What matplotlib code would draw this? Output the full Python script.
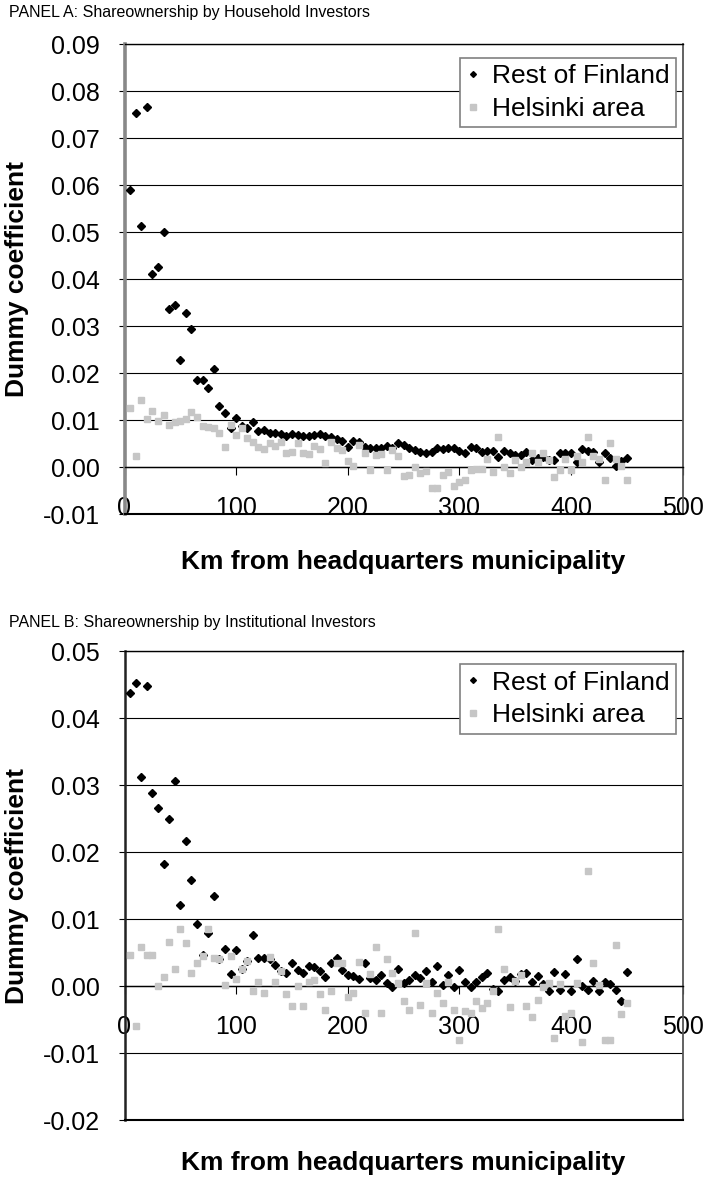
import matplotlib
matplotlib.use("Agg")
import matplotlib.pyplot as plt
import numpy as np

plt.rcParams['font.family'] = ['Liberation Sans', 'DejaVu Sans']

# ---------------- data ----------------
km = list(range(5, 451, 5))

a_rest = [0.0589, 0.0753, 0.0513, 0.0767, 0.0412, 0.0426, 0.0500, 0.0337, 0.0345, 0.0228,
          0.0328, 0.0294, 0.0185, 0.0185, 0.0169, 0.0210, 0.0131, 0.0116, 0.0083, 0.0105,
          0.0088, 0.0083, 0.0096, 0.0077, 0.0079, 0.0072, 0.0073, 0.0070, 0.0067, 0.0070,
          0.0069, 0.0067, 0.0067, 0.0069, 0.0070, 0.0067, 0.0065, 0.0060, 0.0056, 0.0044,
          0.0055, 0.0053, 0.0044, 0.0041, 0.0042, 0.0041, 0.0046, 0.0041, 0.0051, 0.0047,
          0.0041, 0.0037, 0.0033, 0.0031, 0.0033, 0.0041, 0.0038, 0.0042, 0.0042, 0.0035,
          0.0030, 0.0044, 0.0042, 0.0033, 0.0035, 0.0035, 0.0021, 0.0035, 0.0030, 0.0026,
          0.0026, 0.0033, 0.0016, 0.0019, 0.0021, 0.0016, 0.0016, 0.0030, 0.0030, 0.0030,
          0.0012, 0.0038, 0.0035, 0.0033, 0.0012, 0.0031, 0.0019, 0.0003, 0.0014, 0.0019]

a_hel = [0.0127, 0.0024, 0.0143, 0.0102, 0.0120, 0.0099, 0.0111, 0.0089, 0.0097, 0.0099,
         0.0103, 0.0117, 0.0106, 0.0088, 0.0086, 0.0083, 0.0072, 0.0043, 0.0091, 0.0069,
         0.0083, 0.0063, 0.0053, 0.0044, 0.0039, 0.0051, 0.0045, 0.0054, 0.0030, 0.0033,
         0.0051, 0.0030, 0.0028, 0.0046, 0.0038, 0.0010, 0.0054, 0.0040, 0.0037, 0.0014,
         0.0003, 0.0047, 0.0030, -0.0006, 0.0026, 0.0028, -0.0005, 0.0037, 0.0023, -0.0019,
         -0.0016, 0.0000, -0.0013, -0.0007, -0.0045, -0.0043, -0.0016, -0.0011, -0.0040, -0.0031,
         -0.0028, -0.0005, -0.0003, -0.0003, 0.0017, -0.0009, 0.0064, 0.0000, -0.0013, 0.0015,
         0.0000, 0.0012, 0.0031, 0.0012, 0.0031, 0.0015, -0.0021, -0.0005, 0.0017, -0.0006,
         0.0024, 0.0012, 0.0064, 0.0024, 0.0017, -0.0026, 0.0051, 0.0017, 0.0002, -0.0026]

b_rest = [0.0437, 0.0453, 0.0312, 0.0448, 0.0288, 0.0266, 0.0182, 0.0250, 0.0307, 0.0121,
          0.0217, 0.0158, 0.0093, 0.0046, 0.0080, 0.0134, 0.0040, 0.0055, 0.0018, 0.0054,
          0.0025, 0.0037, 0.0077, 0.0042, 0.0042, 0.0041, 0.0031, 0.0022, 0.0019, 0.0034,
          0.0024, 0.0020, 0.0030, 0.0028, 0.0023, 0.0014, 0.0035, 0.0042, 0.0024, 0.0016,
          0.0015, 0.0011, 0.0035, 0.0012, 0.0009, 0.0016, 0.0004, -0.0001, 0.0025, 0.0005,
          0.0009, 0.0017, 0.0012, 0.0022, 0.0006, 0.0030, 0.0001, 0.0017, -0.0002, 0.0024,
          0.0006, -0.0002, 0.0006, 0.0014, 0.0020, -0.0004, -0.0008, 0.0009, 0.0014, 0.0008,
          0.0018, 0.0019, 0.0006, 0.0015, 0.0003, -0.0007, 0.0021, -0.0006, 0.0018, -0.0007,
          0.0040, 0.0000, -0.0006, 0.0007, -0.0008, 0.0006, 0.0003, -0.0006, -0.0023, 0.0021]

b_hel = [0.0046, -0.0059, 0.0058, 0.0047, 0.0046, 0.0000, 0.0014, 0.0066, 0.0026, 0.0085,
         0.0064, 0.0020, 0.0035, 0.0045, 0.0086, 0.0042, 0.0041, 0.0001, 0.0045, 0.0010,
         0.0026, 0.0037, -0.0008, 0.0006, -0.0011, 0.0044, 0.0006, 0.0022, -0.0012, -0.0029,
         0.0000, -0.0030, 0.0006, 0.0009, -0.0012, -0.0036, -0.0008, 0.0035, 0.0035, -0.0016,
         -0.0010, 0.0036, -0.0040, 0.0018, 0.0058, -0.0040, 0.0040, 0.0019, 0.0004, -0.0023,
         -0.0036, 0.0079, -0.0028, 0.0004, -0.0040, -0.0011, -0.0025, 0.0006, -0.0035, -0.0080,
         -0.0037, -0.0040, -0.0023, -0.0033, -0.0025, -0.0008, 0.0085, 0.0025, -0.0031, 0.0007,
         0.0016, -0.0029, -0.0046, -0.0021, -0.0001, 0.0004, -0.0078, 0.0003, -0.0045, -0.0040,
         0.0004, -0.0084, 0.0172, 0.0034, 0.0001, -0.0081, -0.0081, 0.0061, -0.0042, -0.0025]

x_ticks = [0, 100, 200, 300, 400, 500]
a_yticks = [-0.01, 0.00, 0.01, 0.02, 0.03, 0.04, 0.05, 0.06, 0.07, 0.08, 0.09]
b_yticks = [-0.02, -0.01, 0.00, 0.01, 0.02, 0.03, 0.04, 0.05]

title_a = "PANEL A: Shareownership by Household Investors"
title_b = "PANEL B: Shareownership by Institutional Investors"
xlabel = "Km from headquarters municipality"
ylabel = "Dummy coefficient"
series_names = ["Rest of Finland", "Helsinki area"]

# ---------------- figure ----------------
W, H = 706, 1179
fig = plt.figure(figsize=(W / 100, H / 100), dpi=100)


def rect(l, t, r, b):
    return [l / W, 1 - b / H, (r - l) / W, (b - t) / H]


axA = fig.add_axes(rect(124.5, 44.3, 682.7, 514.3))
axB = fig.add_axes(rect(124.5, 651.3, 682.7, 1120.0))


def style(ax, yticks, rest, hel, left_color, left_lw, leg_top):
    ax.set_xlim(0, 500)
    ax.set_ylim(yticks[0], yticks[-1])
    ax.set_yticks(yticks)
    ax.set_yticklabels([f"{v:.2f}" for v in yticks])
    ax.set_xticks(x_ticks)
    ax.set_xticklabels([str(v) for v in x_ticks])
    ax.spines['bottom'].set_position(('data', 0))
    ax.spines['bottom'].set_color('black')
    ax.spines['bottom'].set_linewidth(1.0)
    ax.spines['top'].set_color('black')
    ax.spines['top'].set_linewidth(1.0)
    ax.spines['right'].set_color('#555555')
    ax.spines['right'].set_linewidth(1.3)
    ax.spines['left'].set_color(left_color)
    ax.spines['left'].set_linewidth(left_lw)
    ax.grid(axis='y', color='black', lw=0.8)
    ax.grid(axis='x', visible=False)
    ax.tick_params(axis='x', direction='out', length=6, width=0.8, pad=14.5,
                   labelsize=18, colors='black')
    ax.tick_params(axis='y', direction='out', length=4, width=0.8, pad=14,
                   labelsize=18, colors='black')
    # bottom border of plot area
    ax.plot([0, 1], [0, 0], transform=ax.transAxes, color='black', lw=1.5,
            clip_on=False, zorder=3)
    ax.plot(km, rest, linestyle='none', marker='D', ms=3.7, color='black',
            mec='black', label=series_names[0], zorder=3)
    ax.plot(km, hel, linestyle='none', marker='s', ms=4.8, color='#c6c6c6',
            mec='#c6c6c6', label=series_names[1], zorder=4)
    leg = ax.legend(loc='upper right', bbox_to_anchor=(0.988, leg_top),
                    fontsize=19, frameon=True, fancybox=False,
                    edgecolor='#808080', framealpha=1, borderpad=0.25,
                    handlelength=0.5, handletextpad=0.45, labelspacing=0.32,
                    borderaxespad=0, markerscale=0.8)
    leg.get_frame().set_linewidth(1.2)


style(axA, a_yticks, a_rest, a_hel, '#888888', 2.6, 0.9715)
style(axB, b_yticks, b_rest, b_hel, '#222222', 1.8, 0.973)

fig.text(9 / W, 1 - 13 / H, title_a, fontsize=11.5, ha='left', va='center')
fig.text(9 / W, 1 - 622 / H, title_b, fontsize=11.5, ha='left', va='center')

cx = (124.5 + 682.7) / 2 / W
fig.text(cx, 1 - 562 / H, xlabel, fontsize=19, fontweight='bold', ha='center', va='center')
fig.text(cx, 1 - 1163 / H, xlabel, fontsize=19, fontweight='bold', ha='center', va='center')
fig.text(17 / W, 1 - (44.3 + 514.3) / 2 / H, ylabel, fontsize=19, fontweight='bold',
         rotation=90, ha='center', va='center')
fig.text(17 / W, 1 - (651.3 + 1120) / 2 / H, ylabel, fontsize=19, fontweight='bold',
         rotation=90, ha='center', va='center')

fig.savefig("out.png", dpi=100)
